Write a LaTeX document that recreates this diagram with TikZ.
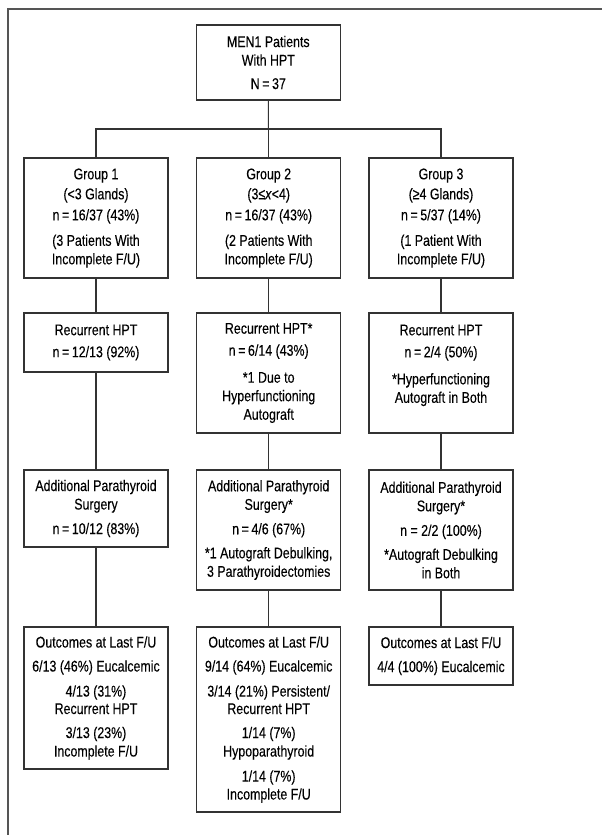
\documentclass[tikz,border=0pt]{standalone}
\usepackage{fontspec}
\setmainfont{Liberation Sans}[FakeStretch=0.8,FakeBold=0.2]
\usetikzlibrary{calc}
\definecolor{boxc}{HTML}{333333}
\definecolor{framec}{HTML}{555555}
\begin{document}
\begin{tikzpicture}[x=1pt,y=-1pt,
  box/.style={draw=boxc,line width=1.1pt,minimum width=144pt,inner sep=0pt,align=center,
    font=\fontsize{15.5}{18.5}\selectfont,text=black},
  link/.style={draw=boxc,line width=1.1pt}]
\useasboundingbox (0,0) rectangle (602,835);
% outer frame (only top and left edges are visible)
\draw[framec,line width=1.5pt] (8,835) -- (8,9) -- (602,9);

\node[box,minimum height=75pt] (top) at (268.3,62.5) {MEN1 Patients\\With HPT\\[5pt]N\,=\,37};

% groups
\node[box,minimum height=120pt] (g1) at (96,218) {Group 1\\[1.5pt](<3 Glands)\\[2.5pt]n\,=\,16/37 (43\%)\\[7pt](3 Patients With\\Incomplete F/U)};
\node[box,minimum height=120pt] (g2) at (268.7,218) {Group 2\\[1.5pt](3≤\textit{x}<4)\\[2.5pt]n\,=\,16/37 (43\%)\\[7pt](2 Patients With\\Incomplete F/U)};
\node[box,minimum height=120pt] (g3) at (441,218) {Group 3\\[1.5pt](≥4 Glands)\\[2.5pt]n\,=\,5/37 (14\%)\\[7pt](1 Patient With\\Incomplete F/U)};

% recurrent
\node[box,minimum height=59pt] (r1) at (96,342.5) {Recurrent HPT\\[3.5pt]n\,=\,12/13 (92\%)};
\node[box,minimum height=120pt] (r2) at (268.7,373) {Recurrent HPT*\\[3.5pt]n\,=\,6/14 (43\%)\\[8.5pt]*1 Due to\\Hyperfunctioning\\Autograft};
\node[box,minimum height=120pt] (r3) at (441,373) {Recurrent HPT\\[3.5pt]n\,=\,2/4 (50\%)\\[8.5pt]*Hyperfunctioning\\Autograft in Both\\\mbox{}};

% additional surgery
\node[box,minimum height=77pt] (a1) at (96,508.5) {Additional Parathyroid\\Surgery\\[6pt]n\,=\,10/12 (83\%)};
\node[box,minimum height=120pt] (a2) at (268.7,530) {Additional Parathyroid\\Surgery*\\[6pt]n\,=\,4/6 (67\%)\\[5.5pt]*1 Autograft Debulking,\\3 Parathyroidectomies};
\node[box,minimum height=120pt] (a3) at (441,530) {Additional Parathyroid\\Surgery*\\[6pt]n = 2/2 (100\%)\\[5.5pt]*Autograft Debulking\\in Both};

% outcomes
\node[box,minimum height=142pt] (o1) at (96,698) {Outcomes at Last F/U\\[5.5pt]6/13 (46\%) Eucalcemic\\[6.5pt]4/13 (31\%)\\[-1pt]Recurrent HPT\\[5.5pt]3/13 (23\%)\\Incomplete F/U};
\node[box,minimum height=185pt] (o2) at (268.7,719.5) {Outcomes at Last F/U\\[5.5pt]9/14 (64\%) Eucalcemic\\[6.5pt]3/14 (21\%) Persistent/\\[-1pt]Recurrent HPT\\[5.5pt]1/14 (7\%)\\Hypoparathyroid\\[6.5pt]1/14 (7\%)\\[-0.5pt]Incomplete F/U};
\node[box,minimum height=58pt] (o3) at (441,656) {Outcomes at Last F/U\\[5.5pt]4/4 (100\%) Eucalcemic};

% connectors
\coordinate (bus) at ($(top.south)!0.5!(top.south |- g2.north)$);
\draw[link] (top.south) -- (bus);
\draw[link] (g1.north) |- (bus) -| (g3.north);
\draw[link] (bus) -- (bus -| g2.north) -- (g2.north);
\draw[link] (g1.south) -- (r1.north);
\draw[link] (g2.south) -- (r2.north);
\draw[link] (g3.south) -- (r3.north);
\draw[link] (r1.south) -- (a1.north);
\draw[link] (r2.south) -- (a2.north);
\draw[link] (r3.south) -- (a3.north);
\draw[link] (a1.south) -- (o1.north);
\draw[link] (a2.south) -- (o2.north);
\draw[link] (a3.south) -- (o3.north);
\end{tikzpicture}
\end{document}
